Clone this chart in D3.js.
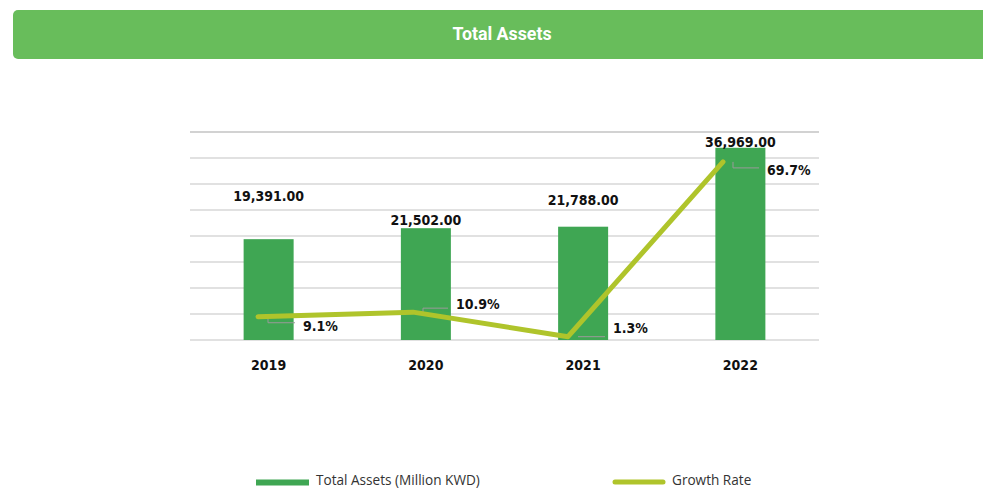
<!DOCTYPE html>
<html><head><meta charset="utf-8">
<script src="https://cdn.jsdelivr.net/npm/d3@7"></script>
<style>
html,body{margin:0;padding:0;background:#fff;}
svg{display:block;}
.lbl{font-family:"DejaVu Sans Condensed","DejaVu Sans",sans-serif;font-stretch:condensed;font-weight:bold;font-size:14px;fill:#111;}
</style></head>
<body>
<svg id="chart" width="983" height="490"></svg>
<script>
// ---- data ----
const categories = ["2019", "2020", "2021", "2022"];
const totalAssets = [19391, 21502, 21788, 36969];
const growthRate = [9.1, 10.9, 1.3, 69.7];
const barTicks = [0, 5000, 10000, 15000, 20000, 25000, 30000, 35000, 40000];
const titleText = "Total Assets";
const seriesNames = ["Total Assets (Million KWD)", "Growth Rate"];

// ---- layout (label placement, not data) ----
const barLabelDy = [-42, -7, -26, -5];
const rateLabelDx = [45, 43, 45, 44];
const rateLabelDy = [10, -7, -8, 9];
const leaderDy = [6, -4, 0, 6];

const colors = {header:"#68bd5b", bar:"#3fa653", line:"#afc42b", grid:"#c4c4c4", gridTop:"#a6a6a6", leader:"#9a9a9a"};
const svg = d3.select("#chart");

// header
svg.append("rect").attr("x",13).attr("y",10).attr("width",990).attr("height",49).attr("rx",5).attr("fill",colors.header);
svg.append("text").attr("x",502).attr("y",35).attr("text-anchor","middle").attr("dominant-baseline","middle")
  .attr("font-family","Roboto, sans-serif").attr("font-weight","bold").attr("font-size",17.8).attr("fill","#fff").text(titleText);

const x = d3.scaleBand().domain(categories).range([190, 819]).paddingInner(0.682).paddingOuter(0.341);
const xl = d3.scalePoint().domain(categories).range([258, 723]);
const y = d3.scaleLinear().domain([0, 40000]).range([340, 132]);
const y2 = d3.scaleLinear().domain([0, 81.4]).range([340, 132]);

// gridlines
svg.append("g").selectAll("line").data(barTicks).join("line")
  .attr("x1",190).attr("x2",819).attr("y1",d=>y(d)).attr("y2",d=>y(d))
  .attr("stroke",(d,i)=> i===barTicks.length-1 ? colors.gridTop : colors.grid).attr("stroke-width",1.2);

// bars
svg.append("g").selectAll("rect").data(totalAssets).join("rect")
  .attr("x",(d,i)=>x(categories[i])).attr("width",x.bandwidth())
  .attr("y",d=>y(d)).attr("height",d=>y(0)-y(d)).attr("fill",colors.bar);

// x-axis labels
const xAxis = d3.axisBottom(x).tickSize(0).tickPadding(20);
const gx = svg.append("g").attr("transform","translate(0,340)").call(xAxis);
gx.select(".domain").remove();
gx.selectAll("text").attr("class","lbl").attr("font-family",null).attr("font-size",null).attr("fill",null);
gx.attr("font-family",null).attr("font-size",null);

// bar labels
const fmt = d3.format(",.2f");
svg.append("g").selectAll("text").data(totalAssets).join("text")
  .attr("class","lbl")
  .attr("x",(d,i)=>x(categories[i])+x.bandwidth()/2)
  .attr("y",(d,i)=>y(d)+barLabelDy[i])
  .attr("text-anchor","middle").attr("dominant-baseline","middle")
  .text(d=>fmt(d));

// leader lines
svg.append("g").selectAll("path").data(growthRate).join("path")
  .attr("d",(d,i)=>{
    const px = xl(categories[i]), py = y2(d);
    const ly = py + leaderDy[i];
    const lx = px + rateLabelDx[i] - 8;
    return `M${px+10},${py}V${ly}H${lx}`;
  })
  .attr("fill","none").attr("stroke",colors.leader).attr("stroke-width",1);

// line
const line = d3.line().x((d,i)=>xl(categories[i])).y(d=>y2(d));
svg.append("path").datum(growthRate).attr("d",line)
  .attr("fill","none").attr("stroke",colors.line).attr("stroke-width",5).attr("stroke-linecap","round").attr("stroke-linejoin","round");

// rate labels
svg.append("g").selectAll("text").data(growthRate).join("text")
  .attr("class","lbl")
  .attr("x",(d,i)=>xl(categories[i])+rateLabelDx[i])
  .attr("y",(d,i)=>y2(d)+rateLabelDy[i])
  .attr("dominant-baseline","middle")
  .text(d=>d.toFixed(1)+"%");

// legend
const lg = svg.append("g");
lg.append("rect").attr("x",256).attr("y",479.5).attr("width",53).attr("height",6).attr("fill",colors.bar);
lg.append("text").attr("x",316).attr("y",481).attr("dominant-baseline","middle")
  .attr("font-family","Open Sans, sans-serif").attr("font-size",13.6).attr("fill","#333").text(seriesNames[0]);
lg.append("line").attr("x1",615).attr("x2",663).attr("y1",482).attr("y2",482)
  .attr("stroke",colors.line).attr("stroke-width",5).attr("stroke-linecap","round");
lg.append("text").attr("x",672).attr("y",481).attr("dominant-baseline","middle")
  .attr("font-family","Open Sans, sans-serif").attr("font-size",13.6).attr("fill","#333").text(seriesNames[1]);
</script>
</body></html>
